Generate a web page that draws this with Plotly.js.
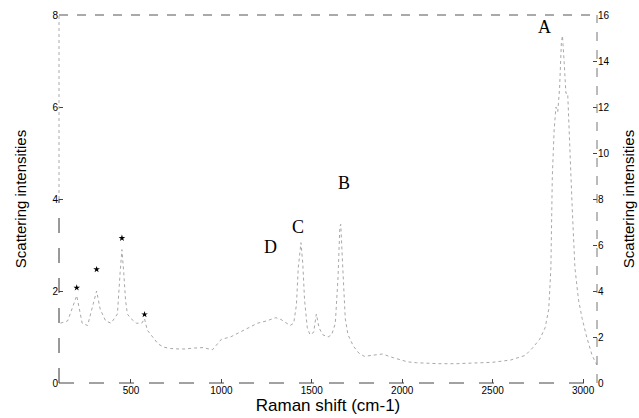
<!DOCTYPE html>
<html>
<head>
<meta charset="utf-8">
<script src="https://cdn.plot.ly/plotly-3.0.1.min.js"></script>
<style>html,body{margin:0;padding:0;background:#fff;}#chart{width:639px;height:418px;}</style>
</head>
<body>
<div id="chart"></div>
<script>
// Raman spectrum, intensities on left axis scale
const ramanShift = [110,150,200,230,260,290,310,330,360,390,410,425,440,450,460,470,480,500,530,560,575,590,620,650,680,720,760,800,850,900,950,1000,1050,1100,1150,1200,1250,1280,1300,1330,1360,1380,1400,1415,1425,1435,1440,1450,1460,1475,1490,1510,1525,1540,1560,1590,1610,1630,1645,1655,1660,1670,1685,1700,1730,1760,1790,1830,1890,1950,2030,2080,2130,2200,2300,2400,2500,2600,2680,2720,2760,2790,2810,2822,2830,2840,2850,2860,2870,2880,2886,2895,2905,2915,2925,2940,2955,2975,2995,3020,3050,3075];
const intensity = [1.3,1.35,1.9,1.3,1.25,1.7,2.0,1.6,1.35,1.3,1.4,1.5,2.4,2.9,2.4,1.8,1.5,1.4,1.3,1.3,1.4,1.15,1.0,0.85,0.78,0.75,0.74,0.74,0.76,0.77,0.72,0.95,1.0,1.1,1.2,1.3,1.35,1.4,1.42,1.38,1.3,1.25,1.3,1.7,2.5,2.95,3.05,2.6,1.8,1.2,1.05,1.1,1.5,1.2,1.05,1.0,1.05,1.3,2.3,3.4,3.45,2.6,1.4,1.05,0.8,0.65,0.58,0.6,0.63,0.55,0.46,0.44,0.43,0.42,0.42,0.43,0.45,0.5,0.6,0.76,0.95,1.2,1.6,2.5,4.5,5.5,6.0,5.9,6.4,7.4,7.55,7.0,6.3,6.3,5.2,3.8,2.5,1.8,1.4,1.0,0.6,0.4];
// marked low-frequency peaks (stars)
const starShift = [200,310,450,575];
const starIntensity = [2.07,2.47,3.15,1.49];
// peak labels
const peakLabels = ["A","B","C","D"];
const labelShift = [2787,1677,1422,1273];
const labelIntensity = [7.74,4.35,3.39,2.96];
const xTicks = [500,1000,1500,2000,2500,3000];
const yTicks = [0,2,4,6,8];
const y2Ticks = [0,2,4,6,8,10,12,14,16];

const traces = [
  {x: ramanShift, y: intensity, type: 'scatter', mode: 'lines',
   line: {color: '#a8a8a8', width: 1, dash: 'dot'}, hoverinfo: 'skip'},
  {x: starShift, y: starIntensity, type: 'scatter', mode: 'markers',
   marker: {symbol: 'star', size: 5, color: '#000'}},
  {x: [null], y: [null], yaxis: 'y2', type: 'scatter', mode: 'lines', hoverinfo: 'skip'}
];

const tickFont = {family: 'Liberation Sans, Arial, sans-serif', size: 10, color: '#000'};
const titleFont = {family: 'Liberation Sans, Arial, sans-serif', size: 15, color: '#000'};

const layout = {
  width: 639, height: 418,
  margin: {l: 59, r: 42, t: 15, b: 35},
  paper_bgcolor: '#fff', plot_bgcolor: '#fff',
  showlegend: false,
  xaxis: {range: [102, 3077], tickvals: xTicks, ticktext: xTicks.map(String),
    ticks: 'inside', ticklen: 4, tickcolor: '#444', showgrid: false, zeroline: false,
    showline: false, tickfont: tickFont,
    title: {text: 'Raman shift (cm-1)', font: {family: 'Liberation Sans, Arial, sans-serif', size: 17, color: '#000'}, standoff: 2}},
  yaxis: {range: [0, 8], tickvals: yTicks, ticktext: yTicks.map(String),
    ticks: 'inside', ticklen: 4, tickcolor: '#444', showgrid: false, zeroline: false,
    showline: false, tickfont: tickFont,
    title: {text: 'Scattering intensities', font: titleFont, standoff: 22}},
  yaxis2: {range: [0, 16], overlaying: 'y', side: 'right', tickvals: y2Ticks, ticktext: y2Ticks.map(String),
    ticks: 'inside', ticklen: 4, tickcolor: '#444', showgrid: false, zeroline: false,
    showline: false, tickfont: tickFont,
    title: {text: 'Scattering intensities', font: titleFont, standoff: 14}},
  shapes: [
    {type: 'line', xref: 'paper', yref: 'paper', x0: 0, x1: 1, y0: 1, y1: 1, line: {color: '#555', width: 1, dash: 'dash'}},
    {type: 'line', xref: 'paper', yref: 'paper', x0: 0, x1: 1, y0: 0, y1: 0, line: {color: '#444', width: 1, dash: 'longdash'}},
    {type: 'line', xref: 'paper', yref: 'paper', x0: 1, x1: 1, y0: 0, y1: 1, line: {color: '#777', width: 1, dash: 'dash'}},
    {type: 'line', xref: 'paper', yref: 'paper', x0: 0, x1: 0, y0: 0.5, y1: 1, line: {color: '#aaa', width: 1, dash: 'dot'}},
    {type: 'line', xref: 'paper', yref: 'paper', x0: 0, x1: 0, y0: 0, y1: 0.5, line: {color: '#333', width: 1, dash: 'longdash'}}
  ],
  annotations: peakLabels.map((t, i) => ({
    x: labelShift[i], y: labelIntensity[i], xref: 'x', yref: 'y', text: t, showarrow: false,
    font: {family: 'Liberation Serif, Times New Roman, serif', size: 18, color: '#000'}
  }))
};

Plotly.newPlot('chart', traces, layout, {displayModeBar: false, staticPlot: true});
</script>
</body>
</html>
